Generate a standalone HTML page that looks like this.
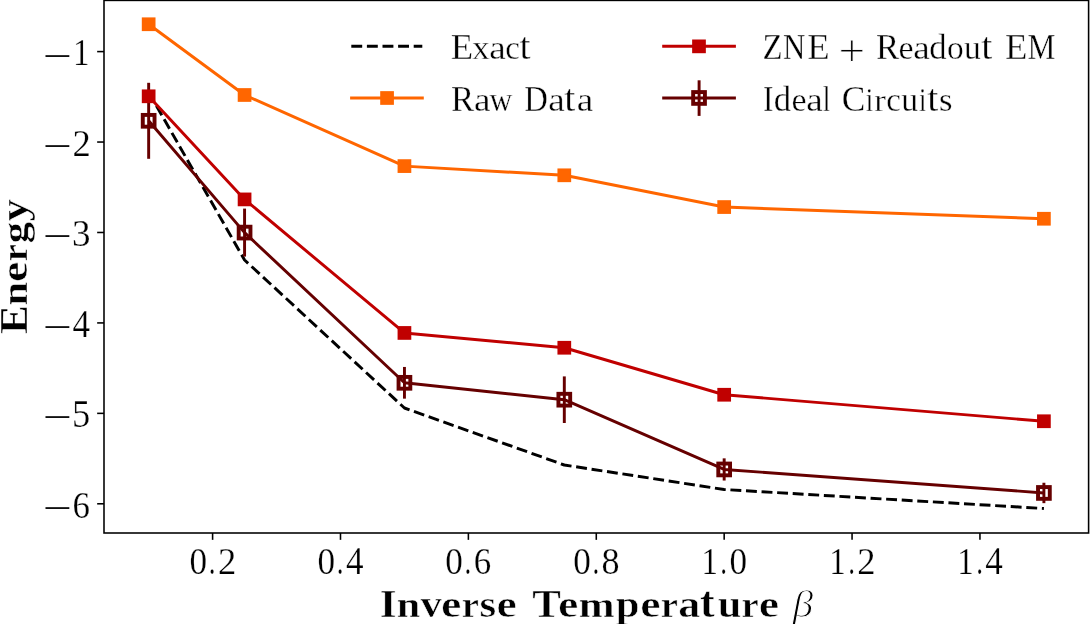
<!DOCTYPE html>
<html><head><meta charset="utf-8"><style>
html,body{margin:0;padding:0;background:#fff;}
svg{display:block;}
svg{will-change:transform} text{stroke:#fff} text.l{stroke-width:0.35px} text.t{stroke-width:0.25px} tspan.m{stroke:none} tspan.p{stroke-width:0.8px} text.b{stroke-width:0.5px} text.y{stroke-width:0.45px} text.g{stroke-width:1px}
</style></head><body>
<svg width="1090" height="624" viewBox="0 0 1090 624">
<rect width="1090" height="624" fill="#fff"/>
<polyline points="148.66,92.25 244.57,260.00 404.44,408.00 564.31,465.00 724.17,489.50 1043.90,508.50" fill="none" stroke="#000" stroke-width="2.938" stroke-dasharray="10.9 4.7" stroke-linejoin="round"/>
<polyline points="148.66,24.25 244.57,95.00 404.44,166.10 564.31,175.30 724.17,207.05 1043.90,218.75" fill="none" stroke="#ff6600" stroke-width="2.938" stroke-linejoin="round"/>
<rect x="142.78" y="18.38" width="11.75" height="11.75" fill="#ff6600" stroke="#ff6600" stroke-width="1.958"/>
<rect x="238.70" y="89.12" width="11.75" height="11.75" fill="#ff6600" stroke="#ff6600" stroke-width="1.958"/>
<rect x="398.56" y="160.22" width="11.75" height="11.75" fill="#ff6600" stroke="#ff6600" stroke-width="1.958"/>
<rect x="558.43" y="169.43" width="11.75" height="11.75" fill="#ff6600" stroke="#ff6600" stroke-width="1.958"/>
<rect x="718.30" y="201.18" width="11.75" height="11.75" fill="#ff6600" stroke="#ff6600" stroke-width="1.958"/>
<rect x="1038.03" y="212.88" width="11.75" height="11.75" fill="#ff6600" stroke="#ff6600" stroke-width="1.958"/>
<line x1="148.66" y1="82.80" x2="148.66" y2="158.80" stroke="#660000" stroke-width="2.938"/>
<line x1="244.57" y1="208.60" x2="244.57" y2="256.60" stroke="#660000" stroke-width="2.938"/>
<line x1="404.44" y1="366.95" x2="404.44" y2="398.65" stroke="#660000" stroke-width="2.938"/>
<line x1="564.31" y1="376.40" x2="564.31" y2="423.00" stroke="#660000" stroke-width="2.938"/>
<line x1="724.17" y1="458.35" x2="724.17" y2="480.55" stroke="#660000" stroke-width="2.938"/>
<line x1="1043.90" y1="482.75" x2="1043.90" y2="503.15" stroke="#660000" stroke-width="2.938"/>
<polyline points="148.66,96.30 244.57,199.40 404.44,332.95 564.31,347.75 724.17,394.75 1043.90,421.25" fill="none" stroke="#c00000" stroke-width="2.938" stroke-linejoin="round"/>
<rect x="142.78" y="90.42" width="11.75" height="11.75" fill="#c00000" stroke="#c00000" stroke-width="1.958"/>
<rect x="238.70" y="193.53" width="11.75" height="11.75" fill="#c00000" stroke="#c00000" stroke-width="1.958"/>
<rect x="398.56" y="327.07" width="11.75" height="11.75" fill="#c00000" stroke="#c00000" stroke-width="1.958"/>
<rect x="558.43" y="341.88" width="11.75" height="11.75" fill="#c00000" stroke="#c00000" stroke-width="1.958"/>
<rect x="718.30" y="388.88" width="11.75" height="11.75" fill="#c00000" stroke="#c00000" stroke-width="1.958"/>
<rect x="1038.03" y="415.38" width="11.75" height="11.75" fill="#c00000" stroke="#c00000" stroke-width="1.958"/>
<polyline points="148.66,120.80 244.57,232.60 404.44,382.80 564.31,399.70 724.17,469.45 1043.90,492.95" fill="none" stroke="#660000" stroke-width="2.938" stroke-linejoin="round"/>
<rect x="142.78" y="114.92" width="11.75" height="11.75" fill="none" stroke="#660000" stroke-width="3.917"/>
<rect x="238.70" y="226.72" width="11.75" height="11.75" fill="none" stroke="#660000" stroke-width="3.917"/>
<rect x="398.56" y="376.93" width="11.75" height="11.75" fill="none" stroke="#660000" stroke-width="3.917"/>
<rect x="558.43" y="393.82" width="11.75" height="11.75" fill="none" stroke="#660000" stroke-width="3.917"/>
<rect x="718.30" y="463.57" width="11.75" height="11.75" fill="none" stroke="#660000" stroke-width="3.917"/>
<rect x="1038.03" y="487.07" width="11.75" height="11.75" fill="none" stroke="#660000" stroke-width="3.917"/>
<rect x="104.0" y="0.4" width="984.60" height="532.60" fill="none" stroke="#000" stroke-width="1.567"/>
<line x1="97.15" y1="51.60" x2="104.00" y2="51.60" stroke="#000" stroke-width="1.567"/>
<line x1="97.15" y1="142.04" x2="104.00" y2="142.04" stroke="#000" stroke-width="1.567"/>
<line x1="97.15" y1="232.48" x2="104.00" y2="232.48" stroke="#000" stroke-width="1.567"/>
<line x1="97.15" y1="322.92" x2="104.00" y2="322.92" stroke="#000" stroke-width="1.567"/>
<line x1="97.15" y1="413.36" x2="104.00" y2="413.36" stroke="#000" stroke-width="1.567"/>
<line x1="97.15" y1="503.80" x2="104.00" y2="503.80" stroke="#000" stroke-width="1.567"/>
<line x1="212.60" y1="533.00" x2="212.60" y2="539.85" stroke="#000" stroke-width="1.567"/>
<line x1="340.49" y1="533.00" x2="340.49" y2="539.85" stroke="#000" stroke-width="1.567"/>
<line x1="468.38" y1="533.00" x2="468.38" y2="539.85" stroke="#000" stroke-width="1.567"/>
<line x1="596.28" y1="533.00" x2="596.28" y2="539.85" stroke="#000" stroke-width="1.567"/>
<line x1="724.17" y1="533.00" x2="724.17" y2="539.85" stroke="#000" stroke-width="1.567"/>
<line x1="852.06" y1="533.00" x2="852.06" y2="539.85" stroke="#000" stroke-width="1.567"/>
<line x1="979.95" y1="533.00" x2="979.95" y2="539.85" stroke="#000" stroke-width="1.567"/>
<line x1="351.3" y1="46.25" x2="422.3" y2="46.25" stroke="#000" stroke-width="2.938" stroke-dasharray="10.9 4.7"/>
<line x1="350.1" y1="98.05" x2="423.8" y2="98.05" stroke="#ff6600" stroke-width="2.938"/>
<rect x="381.18" y="92.12" width="11.75" height="11.75" fill="#ff6600" stroke="#ff6600" stroke-width="1.958"/>
<line x1="662.2" y1="46.3" x2="735.9" y2="46.3" stroke="#c00000" stroke-width="2.938"/>
<rect x="693.12" y="40.48" width="11.75" height="11.75" fill="#c00000" stroke="#c00000" stroke-width="1.958"/>
<line x1="699.1" y1="80.3" x2="699.1" y2="115.9" stroke="#660000" stroke-width="2.938"/>
<line x1="662.2" y1="98.05" x2="735.9" y2="98.05" stroke="#660000" stroke-width="2.938"/>
<rect x="693.17" y="92.08" width="11.75" height="11.75" fill="none" stroke="#660000" stroke-width="3.917"/>
<text y="58.95" font-family="Liberation Serif, serif" font-size="36.24" class="l"><tspan x="450.88" y="58.95" font-size="36.24" textLength="22.41" lengthAdjust="spacingAndGlyphs">E</tspan><tspan x="471.93" y="58.95" font-size="32.66" textLength="17.67" lengthAdjust="spacingAndGlyphs">x</tspan><tspan x="489.33" y="58.95" font-size="32.93" textLength="16.54" lengthAdjust="spacingAndGlyphs">a</tspan><tspan x="505.25" y="58.95" font-size="32.64" textLength="14.59" lengthAdjust="spacingAndGlyphs">c</tspan><tspan x="519.61" y="58.95" font-size="38.05" textLength="11.02" lengthAdjust="spacingAndGlyphs">t</tspan></text>
<text y="110.85" font-family="Liberation Serif, serif" font-size="36.25" class="l"><tspan x="450.98" y="110.85" font-size="36.25" textLength="23.18" lengthAdjust="spacingAndGlyphs">R</tspan><tspan x="474.14" y="110.85" font-size="32.93" textLength="16.54" lengthAdjust="spacingAndGlyphs">a</tspan><tspan x="489.56" y="110.85" font-size="32.73" textLength="22.89" lengthAdjust="spacingAndGlyphs">w</tspan> <tspan x="524.17" y="110.85" font-size="36.47" textLength="23.60" lengthAdjust="spacingAndGlyphs">D</tspan><tspan x="548.19" y="110.85" font-size="32.93" textLength="16.54" lengthAdjust="spacingAndGlyphs">a</tspan><tspan x="564.20" y="110.85" font-size="38.05" textLength="11.02" lengthAdjust="spacingAndGlyphs">t</tspan><tspan x="576.73" y="110.85" font-size="32.93" textLength="16.54" lengthAdjust="spacingAndGlyphs">a</tspan></text>
<text y="58.95" font-family="Liberation Serif, serif" font-size="36.47" class="l"><tspan x="762.44" y="58.95" font-size="36.47" textLength="20.05" lengthAdjust="spacingAndGlyphs">Z</tspan><tspan x="783.07" y="58.95" font-size="36.25" textLength="22.32" lengthAdjust="spacingAndGlyphs">N</tspan><tspan x="807.26" y="58.95" font-size="36.24" textLength="22.41" lengthAdjust="spacingAndGlyphs">E</tspan> <tspan class="p" x="838.44" y="65.90" font-size="47.12" textLength="26.69" lengthAdjust="spacingAndGlyphs">+</tspan> <tspan x="875.89" y="58.95" font-size="36.25" textLength="23.18" lengthAdjust="spacingAndGlyphs">R</tspan><tspan x="898.59" y="58.95" font-size="32.79" textLength="15.08" lengthAdjust="spacingAndGlyphs">e</tspan><tspan x="913.33" y="58.95" font-size="32.93" textLength="16.54" lengthAdjust="spacingAndGlyphs">a</tspan><tspan x="929.25" y="58.95" font-size="34.77" textLength="17.34" lengthAdjust="spacingAndGlyphs">d</tspan><tspan x="946.96" y="58.95" font-size="32.79" textLength="16.73" lengthAdjust="spacingAndGlyphs">o</tspan><tspan x="964.10" y="58.95" font-size="33.03" textLength="16.82" lengthAdjust="spacingAndGlyphs">u</tspan><tspan x="981.33" y="58.95" font-size="38.05" textLength="11.02" lengthAdjust="spacingAndGlyphs">t</tspan> <tspan x="1005.10" y="58.95" font-size="36.24" textLength="22.41" lengthAdjust="spacingAndGlyphs">E</tspan><tspan x="1027.38" y="58.95" font-size="36.20" textLength="27.92" lengthAdjust="spacingAndGlyphs">M</tspan></text>
<text y="110.85" font-family="Liberation Serif, serif" font-size="36.47" class="l"><tspan x="762.92" y="110.85" font-size="36.47" textLength="10.45" lengthAdjust="spacingAndGlyphs">I</tspan><tspan x="773.81" y="110.85" font-size="34.77" textLength="17.34" lengthAdjust="spacingAndGlyphs">d</tspan><tspan x="791.47" y="110.85" font-size="32.79" textLength="15.08" lengthAdjust="spacingAndGlyphs">e</tspan><tspan x="806.21" y="110.85" font-size="32.93" textLength="16.54" lengthAdjust="spacingAndGlyphs">a</tspan><tspan x="822.87" y="110.85" font-size="34.77" textLength="7.67" lengthAdjust="spacingAndGlyphs">l</tspan> <tspan x="841.75" y="110.85" font-size="36.60" textLength="23.60" lengthAdjust="spacingAndGlyphs">C</tspan><tspan x="865.67" y="110.85" font-size="34.56" textLength="7.39" lengthAdjust="spacingAndGlyphs">i</tspan><tspan x="874.19" y="110.85" font-size="32.49" textLength="11.61" lengthAdjust="spacingAndGlyphs">r</tspan><tspan x="886.15" y="110.85" font-size="32.64" textLength="14.59" lengthAdjust="spacingAndGlyphs">c</tspan><tspan x="901.23" y="110.85" font-size="33.03" textLength="16.82" lengthAdjust="spacingAndGlyphs">u</tspan><tspan x="919.09" y="110.85" font-size="34.56" textLength="7.39" lengthAdjust="spacingAndGlyphs">i</tspan><tspan x="927.22" y="110.85" font-size="38.05" textLength="11.02" lengthAdjust="spacingAndGlyphs">t</tspan><tspan x="939.11" y="110.85" font-size="32.83" textLength="13.49" lengthAdjust="spacingAndGlyphs">s</tspan></text>
<text y="616.70" font-family="Liberation Serif, serif" font-size="40.52" font-weight="bold" class="b"><tspan x="379.77" y="616.70" font-size="40.52" textLength="16.80" lengthAdjust="spacingAndGlyphs">I</tspan><tspan x="396.87" y="616.70" font-size="36.67" textLength="23.55" lengthAdjust="spacingAndGlyphs">n</tspan><tspan x="420.48" y="616.70" font-size="37.49" textLength="21.27" lengthAdjust="spacingAndGlyphs">v</tspan><tspan x="441.13" y="616.70" font-size="37.34" textLength="20.31" lengthAdjust="spacingAndGlyphs">e</tspan><tspan x="461.84" y="616.70" font-size="36.48" textLength="17.17" lengthAdjust="spacingAndGlyphs">r</tspan><tspan x="479.63" y="616.70" font-size="37.27" textLength="16.66" lengthAdjust="spacingAndGlyphs">s</tspan><tspan x="496.40" y="616.70" font-size="37.34" textLength="20.31" lengthAdjust="spacingAndGlyphs">e</tspan> <tspan x="532.35" y="616.70" font-size="40.09" textLength="28.60" lengthAdjust="spacingAndGlyphs">T</tspan><tspan x="557.94" y="616.70" font-size="37.34" textLength="20.31" lengthAdjust="spacingAndGlyphs">e</tspan><tspan x="578.81" y="616.70" font-size="36.67" textLength="35.88" lengthAdjust="spacingAndGlyphs">m</tspan><tspan x="615.73" y="616.70" font-size="36.99" textLength="23.77" lengthAdjust="spacingAndGlyphs">p</tspan><tspan x="640.16" y="616.70" font-size="37.34" textLength="20.31" lengthAdjust="spacingAndGlyphs">e</tspan><tspan x="660.87" y="616.70" font-size="36.48" textLength="17.17" lengthAdjust="spacingAndGlyphs">r</tspan><tspan x="678.38" y="616.70" font-size="37.41" textLength="22.06" lengthAdjust="spacingAndGlyphs">a</tspan><tspan x="699.92" y="616.70" font-size="43.66" textLength="14.68" lengthAdjust="spacingAndGlyphs">t</tspan><tspan x="717.88" y="616.70" font-size="37.98" textLength="23.55" lengthAdjust="spacingAndGlyphs">u</tspan><tspan x="741.60" y="616.70" font-size="36.48" textLength="17.17" lengthAdjust="spacingAndGlyphs">r</tspan><tspan x="758.84" y="616.70" font-size="37.34" textLength="20.31" lengthAdjust="spacingAndGlyphs">e</tspan></text>
<text y="616.70" font-family="Liberation Serif, serif" font-size="38.79" font-style="italic" class="g"><tspan x="792.73" y="616.70" font-size="38.79" textLength="20.43" lengthAdjust="spacingAndGlyphs">&#946;</tspan></text>
<text transform="rotate(-90)" y="26.60" font-family="Liberation Serif, serif" font-size="40.52" font-weight="bold" class="y"><tspan x="-334.10" y="26.60" font-size="40.52" textLength="29.04" lengthAdjust="spacingAndGlyphs">E</tspan><tspan x="-305.52" y="26.60" font-size="36.67" textLength="23.55" lengthAdjust="spacingAndGlyphs">n</tspan><tspan x="-281.99" y="26.60" font-size="37.34" textLength="20.31" lengthAdjust="spacingAndGlyphs">e</tspan><tspan x="-261.28" y="26.60" font-size="36.48" textLength="17.17" lengthAdjust="spacingAndGlyphs">r</tspan><tspan x="-243.61" y="26.60" font-size="34.98" textLength="21.62" lengthAdjust="spacingAndGlyphs">g</tspan><tspan x="-221.30" y="26.60" font-size="37.63" textLength="22.21" lengthAdjust="spacingAndGlyphs">y</tspan></text>
<text y="65.30" font-family="Liberation Serif, serif" font-size="36.00" class="t"><tspan class="m" x="42.73" y="67.50" font-size="36.00" textLength="28.90" lengthAdjust="spacingAndGlyphs">&#8722;</tspan><tspan x="72.90" y="65.30" font-size="38.72" textLength="16.46" lengthAdjust="spacingAndGlyphs">1</tspan></text>
<text y="155.74" font-family="Liberation Serif, serif" font-size="36.00" class="t"><tspan class="m" x="42.73" y="157.94" font-size="36.00" textLength="28.90" lengthAdjust="spacingAndGlyphs">&#8722;</tspan><tspan x="72.38" y="155.74" font-size="38.90" textLength="18.30" lengthAdjust="spacingAndGlyphs">2</tspan></text>
<text y="246.18" font-family="Liberation Serif, serif" font-size="36.00" class="t"><tspan class="m" x="42.73" y="248.38" font-size="36.00" textLength="28.90" lengthAdjust="spacingAndGlyphs">&#8722;</tspan><tspan x="71.91" y="246.18" font-size="38.48" textLength="18.52" lengthAdjust="spacingAndGlyphs">3</tspan></text>
<text y="336.62" font-family="Liberation Serif, serif" font-size="36.00" class="t"><tspan class="m" x="42.73" y="338.82" font-size="36.00" textLength="28.90" lengthAdjust="spacingAndGlyphs">&#8722;</tspan><tspan x="72.49" y="336.62" font-size="39.42" textLength="17.54" lengthAdjust="spacingAndGlyphs">4</tspan></text>
<text y="427.06" font-family="Liberation Serif, serif" font-size="36.00" class="t"><tspan class="m" x="42.73" y="429.26" font-size="36.00" textLength="28.90" lengthAdjust="spacingAndGlyphs">&#8722;</tspan><tspan x="71.88" y="427.06" font-size="39.03" textLength="18.22" lengthAdjust="spacingAndGlyphs">5</tspan></text>
<text y="517.50" font-family="Liberation Serif, serif" font-size="36.00" class="t"><tspan class="m" x="42.73" y="519.70" font-size="36.00" textLength="28.90" lengthAdjust="spacingAndGlyphs">&#8722;</tspan><tspan x="72.38" y="517.50" font-size="38.48" textLength="17.45" lengthAdjust="spacingAndGlyphs">6</tspan></text>
<text y="574.00" font-family="Liberation Serif, serif" font-size="38.49" class="t"><tspan x="189.54" y="574.00" font-size="38.49" textLength="17.59" lengthAdjust="spacingAndGlyphs">0</tspan><tspan x="208.79" y="574.00" font-size="39.00" textLength="6.76" lengthAdjust="spacingAndGlyphs">.</tspan><tspan x="217.90" y="574.00" font-size="38.90" textLength="18.30" lengthAdjust="spacingAndGlyphs">2</tspan></text>
<text y="574.00" font-family="Liberation Serif, serif" font-size="38.49" class="t"><tspan x="317.43" y="574.00" font-size="38.49" textLength="17.59" lengthAdjust="spacingAndGlyphs">0</tspan><tspan x="336.68" y="574.00" font-size="39.00" textLength="6.76" lengthAdjust="spacingAndGlyphs">.</tspan><tspan x="345.89" y="574.00" font-size="39.42" textLength="17.54" lengthAdjust="spacingAndGlyphs">4</tspan></text>
<text y="574.00" font-family="Liberation Serif, serif" font-size="38.49" class="t"><tspan x="445.32" y="574.00" font-size="38.49" textLength="17.59" lengthAdjust="spacingAndGlyphs">0</tspan><tspan x="464.58" y="574.00" font-size="39.00" textLength="6.76" lengthAdjust="spacingAndGlyphs">.</tspan><tspan x="473.67" y="574.00" font-size="38.48" textLength="17.45" lengthAdjust="spacingAndGlyphs">6</tspan></text>
<text y="574.00" font-family="Liberation Serif, serif" font-size="38.49" class="t"><tspan x="573.22" y="574.00" font-size="38.49" textLength="17.59" lengthAdjust="spacingAndGlyphs">0</tspan><tspan x="592.47" y="574.00" font-size="39.00" textLength="6.76" lengthAdjust="spacingAndGlyphs">.</tspan><tspan x="601.49" y="574.00" font-size="38.31" textLength="18.05" lengthAdjust="spacingAndGlyphs">8</tspan></text>
<text y="574.00" font-family="Liberation Serif, serif" font-size="38.72" class="t"><tspan x="701.47" y="574.00" font-size="38.72" textLength="16.46" lengthAdjust="spacingAndGlyphs">1</tspan><tspan x="720.36" y="574.00" font-size="39.00" textLength="6.76" lengthAdjust="spacingAndGlyphs">.</tspan><tspan x="729.62" y="574.00" font-size="38.49" textLength="17.59" lengthAdjust="spacingAndGlyphs">0</tspan></text>
<text y="574.00" font-family="Liberation Serif, serif" font-size="38.72" class="t"><tspan x="829.36" y="574.00" font-size="38.72" textLength="16.46" lengthAdjust="spacingAndGlyphs">1</tspan><tspan x="848.25" y="574.00" font-size="39.00" textLength="6.76" lengthAdjust="spacingAndGlyphs">.</tspan><tspan x="857.36" y="574.00" font-size="38.90" textLength="18.30" lengthAdjust="spacingAndGlyphs">2</tspan></text>
<text y="574.00" font-family="Liberation Serif, serif" font-size="38.72" class="t"><tspan x="957.25" y="574.00" font-size="38.72" textLength="16.46" lengthAdjust="spacingAndGlyphs">1</tspan><tspan x="976.14" y="574.00" font-size="39.00" textLength="6.76" lengthAdjust="spacingAndGlyphs">.</tspan><tspan x="985.35" y="574.00" font-size="39.42" textLength="17.54" lengthAdjust="spacingAndGlyphs">4</tspan></text>
</svg>
</body></html>
